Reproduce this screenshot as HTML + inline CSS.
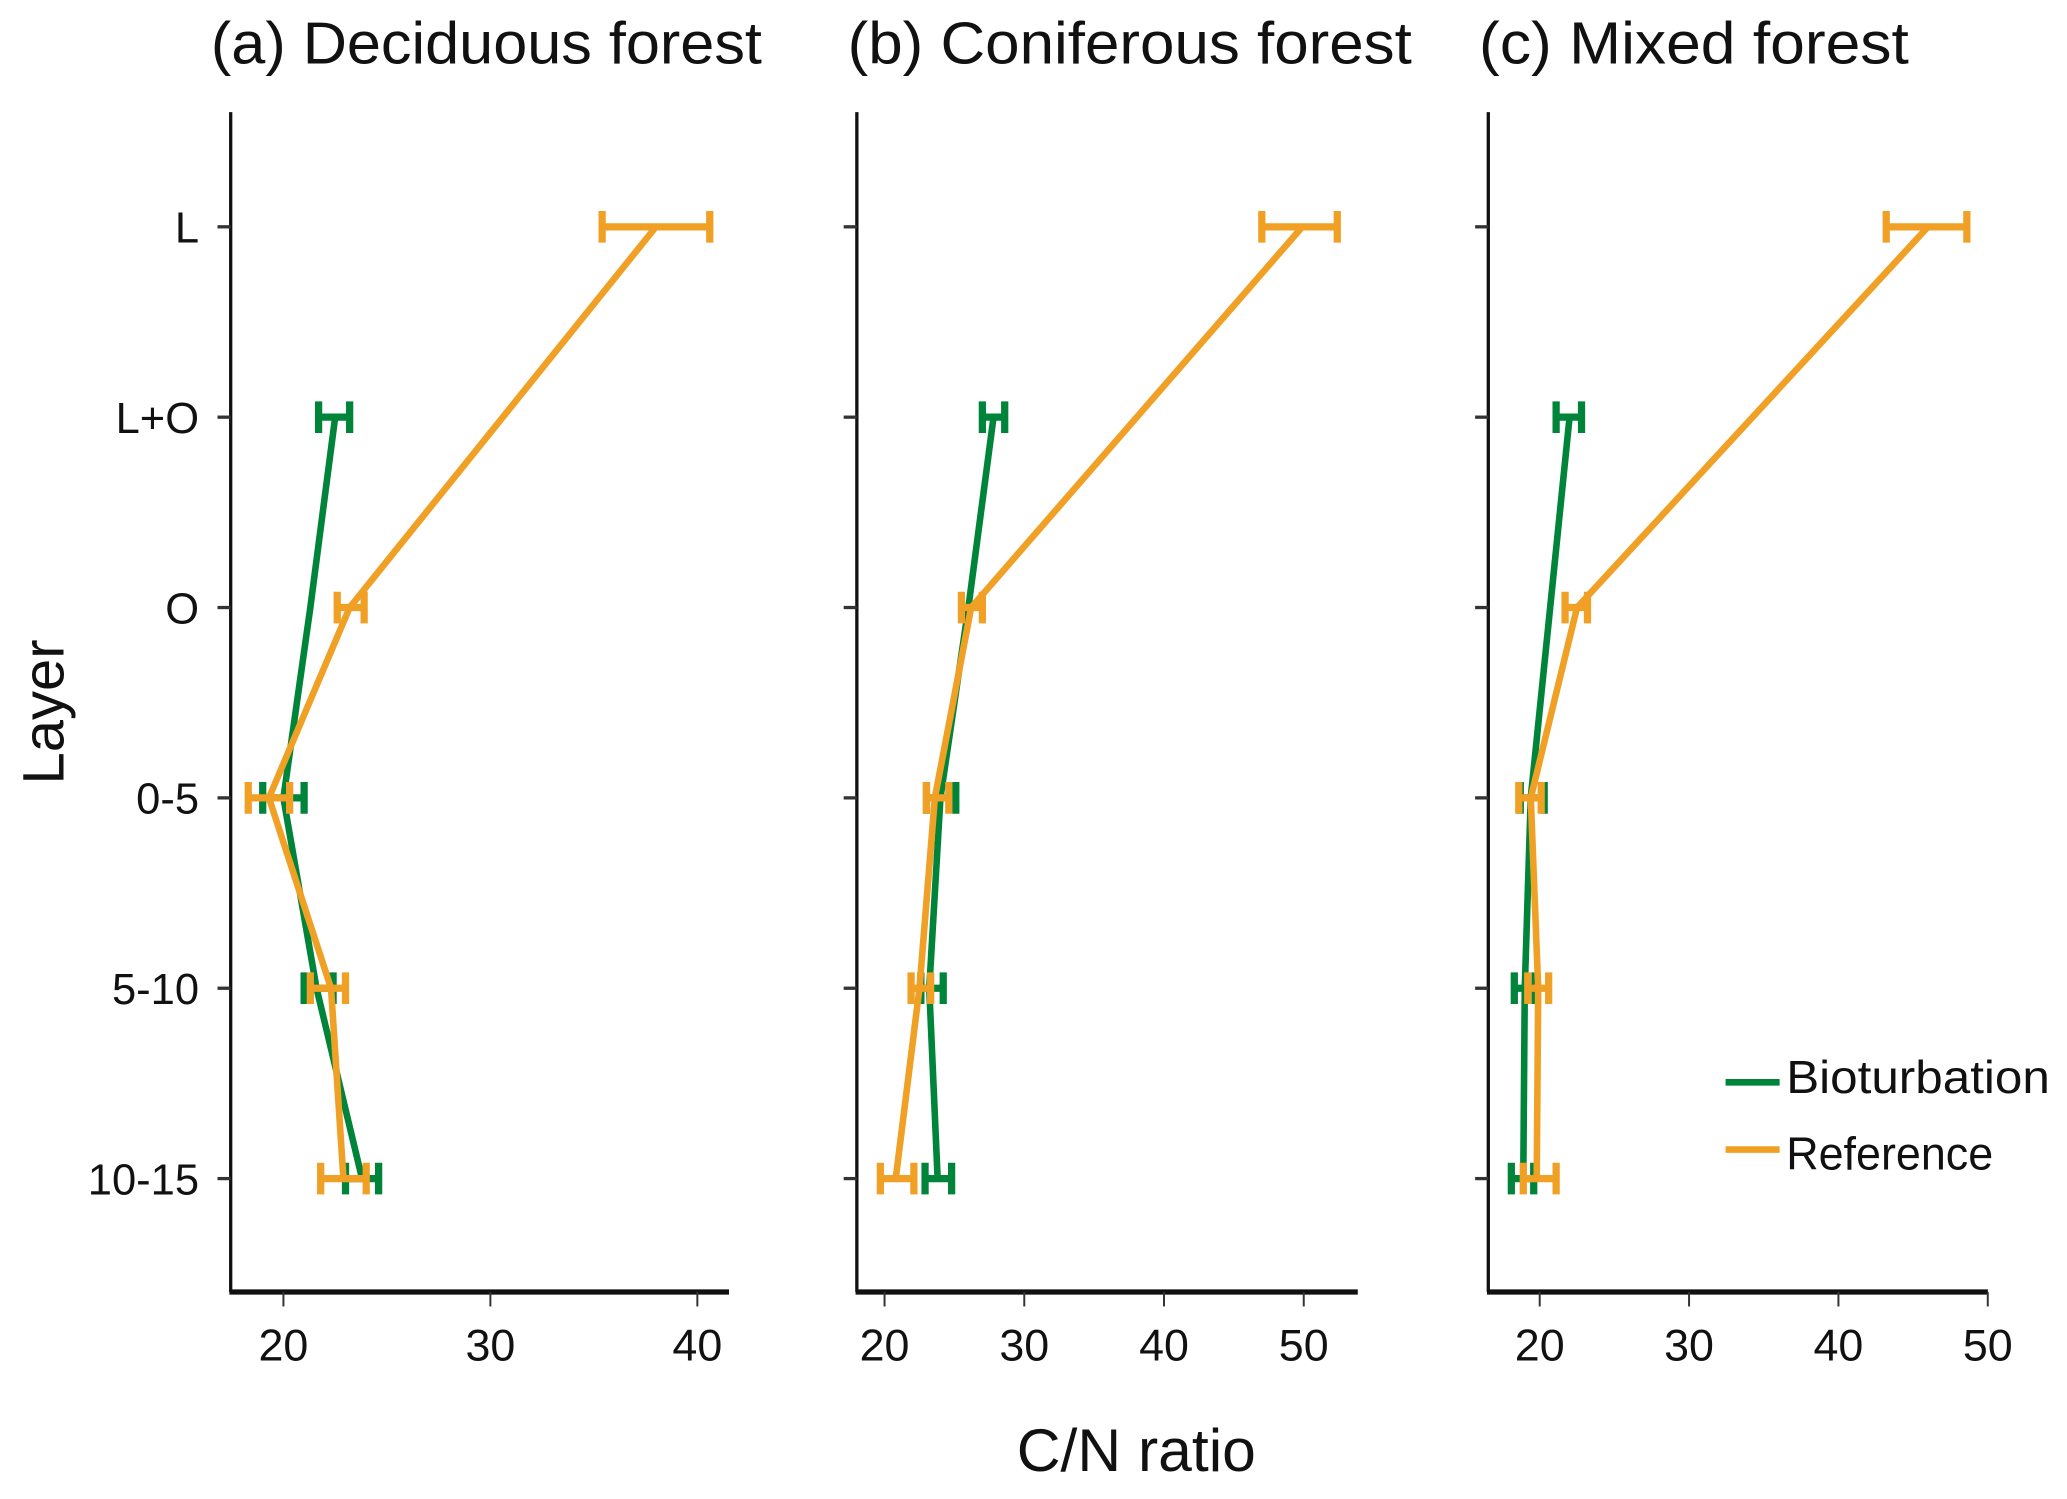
<!DOCTYPE html>
<html><head><meta charset="utf-8"><style>
html,body{margin:0;padding:0;background:#fff;}
svg{display:block;font-family:"Liberation Sans","DejaVu Sans",sans-serif;}
</style></head>
<body>
<svg id="chart" width="2067" height="1499" viewBox="0 0 1568 1137" xmlns="http://www.w3.org/2000/svg">
<g>
<text x="160" y="48" font-size="45" textLength="418" lengthAdjust="spacingAndGlyphs" fill="#111">(a) Deciduous forest</text>
<text x="643" y="48" font-size="45" textLength="428" lengthAdjust="spacingAndGlyphs" fill="#111">(b) Coniferous forest</text>
<text x="1122" y="48" font-size="45" textLength="326" lengthAdjust="spacingAndGlyphs" fill="#111">(c) Mixed forest</text>
</g>
<text transform="translate(48,540) rotate(-90)" text-anchor="middle" font-size="44" fill="#111">Layer</text>
<text x="862" y="1116" text-anchor="middle" font-size="46" fill="#111">C/N ratio</text>
<g>
<line x1="1309" x2="1350" y1="821" y2="821" stroke="#00843a" stroke-width="5"/>
<text x="1355" y="829" font-size="35" textLength="200" lengthAdjust="spacingAndGlyphs" fill="#111">Bioturbation</text>
<line x1="1309" x2="1350" y1="872" y2="872" stroke="#f0a024" stroke-width="5"/>
<text x="1355" y="887" font-size="35" textLength="157" lengthAdjust="spacingAndGlyphs" fill="#111">Reference</text>
</g>
<g id="plots"></g>
</svg>
<script>
const layers = ["L","L+O","O","0-5","5-10","10-15"];
// Panel (a) Deciduous
const decBio = [null,22.5,21.3,20.0,21.6,23.8];
const decBioLo = [null,21.7,null,19.0,21.0,23.0];
const decBioHi = [null,23.2,null,21.0,22.4,24.6];
const decRef = [38.0,null,23.2,19.3,22.3,22.9];
const decRefLo = [35.4,null,22.6,18.3,21.3,21.8];
const decRefHi = [40.6,null,23.9,20.3,23.0,24.0];
const decTicks = [20,30,40];
// Panel (b) Coniferous
const conBio = [null,27.8,26.0,24.0,23.2,23.8];
const conBioLo = [null,27.0,null,23.0,22.6,22.9];
const conBioHi = [null,28.6,null,25.1,24.2,24.8];
const conRef = [49.9,null,26.2,23.6,22.5,20.8];
const conRefLo = [47.0,null,25.5,23.0,21.9,19.7];
const conRefHi = [52.4,null,27.0,24.6,23.3,22.1];
const conTicks = [20,30,40,50];
// Panel (c) Mixed
const mixBio = [null,22.0,20.7,19.4,19.0,18.9];
const mixBioLo = [null,21.1,null,18.7,18.3,18.1];
const mixBioHi = [null,22.8,null,20.3,19.7,19.6];
const mixRef = [46.0,null,22.5,19.4,19.9,19.8];
const mixRefLo = [43.2,null,21.7,18.6,19.2,18.9];
const mixRefHi = [48.6,null,23.2,20.1,20.6,21.1];
const mixTicks = [20,30,40,50];

const NS="http://www.w3.org/2000/svg";
const root=document.getElementById('plots');
function mk(tag,attrs,parent){const e=document.createElementNS(NS,tag);for(const k in attrs)e.setAttribute(k,attrs[k]);parent.appendChild(e);return e;}
const yTop=85, yBot=980;
function yScale(i){return 172+i*144.4;}
const GREEN="#00843a", ORANGE="#f0a024";

function panel(name,x0,x1,px20,pxPerUnit,ticks,series,showY){
  const g=mk('g',{},root);
  
  
  const xs=v=>px20+(v-20)*pxPerUnit;
  const ya=mk('line',{x1:x0,x2:x0,y1:yTop,y2:yBot,stroke:'#111','stroke-width':2.5},g);
  
  
  const xa=mk('line',{x1:x0-1,x2:x1,y1:yBot,y2:yBot,stroke:'#111','stroke-width':4},g);
  
  
  layers.forEach((l,i)=>{
    const t=mk('line',{x1:x0-10,x2:x0,y1:yScale(i),y2:yScale(i),stroke:'#333','stroke-width':2.5},g);
    
    
    if(showY){
      const tx=mk('text',{x:151,y:yScale(i)+12,'text-anchor':'end','font-size':33,fill:'#111'},g);
      tx.textContent=l;
      
      
    }
  });
  ticks.forEach(v=>{
    const t=mk('line',{x1:xs(v),x2:xs(v),y1:yBot,y2:yBot+11,stroke:'#333','stroke-width':1.5},g);
    
    
    const tx=mk('text',{x:xs(v),y:1032,'text-anchor':'middle','font-size':34,fill:'#111'},g);
    tx.textContent=v;
    
    
  });
  series.forEach(s=>{
    const pts=[];
    s.vals.forEach((v,i)=>{if(v!==null)pts.push(xs(v)+','+yScale(i));});
    const pl=mk('polyline',{points:pts.join(' '),fill:'none',stroke:s.color,'stroke-width':5,'stroke-linejoin':'round'},g);
    
    
    s.vals.forEach((v,i)=>{
      if(s.lo[i]===null)return;
      const y=yScale(i), a=xs(s.lo[i]), b=xs(s.hi[i]);
      const eb=mk('path',{d:`M${a},${y}H${b}M${a},${y-12}V${y+12}M${b},${y-12}V${y+12}`,fill:'none',stroke:s.color,'stroke-width':5.5},g);
      
      
    });
  });
}
panel('deciduous',175,553,215,15.7,decTicks,[
  {key:'bioturbation',color:GREEN,vals:decBio,lo:decBioLo,hi:decBioHi},
  {key:'reference',color:ORANGE,vals:decRef,lo:decRefLo,hi:decRefHi}],true);
panel('coniferous',650,1030,671,10.6,conTicks,[
  {key:'bioturbation',color:GREEN,vals:conBio,lo:conBioLo,hi:conBioHi},
  {key:'reference',color:ORANGE,vals:conRef,lo:conRefLo,hi:conRefHi}],false);
panel('mixed',1129,1508,1168,11.33,mixTicks,[
  {key:'bioturbation',color:GREEN,vals:mixBio,lo:mixBioLo,hi:mixBioHi},
  {key:'reference',color:ORANGE,vals:mixRef,lo:mixRefLo,hi:mixRefHi}],false);
</script>
</body></html>
